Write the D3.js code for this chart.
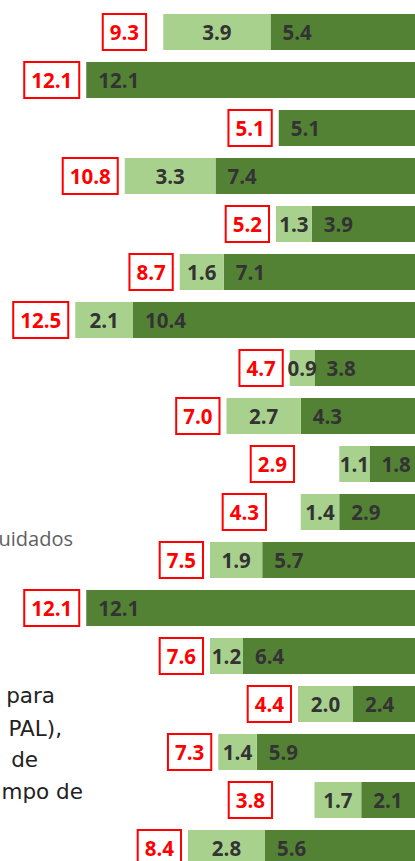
<!DOCTYPE html>
<html>
<head>
<meta charset="utf-8">
<script src="https://cdn.jsdelivr.net/npm/d3@7"></script>
<style>
  html, body { margin: 0; padding: 0; background: #ffffff; overflow: hidden; }
  svg { display: block; }
</style>
</head>
<body>
<svg id="chart" width="415" height="861"></svg>
<script>
// ---- data ----
const categories = ["r01","r02","r03","r04","r05","r06","r07","r08","r09","r10","r11","r12","r13","r14","r15","r16","r17","r18"];
const totals   = [9.3, 12.1, 5.1, 10.8, 5.2, 8.7, 12.5, 4.7, 7.0, 2.9, 4.3, 7.5, 12.1, 7.6, 4.4, 7.3, 3.8, 8.4];
const lightVals = [3.9, 0, 0, 3.3, 1.3, 1.6, 2.1, 0.9, 2.7, 1.1, 1.4, 1.9, 0, 1.2, 2.0, 1.4, 1.7, 2.8];
const darkVals  = [5.4, 12.1, 5.1, 7.4, 3.9, 7.1, 10.4, 3.8, 4.3, 1.8, 2.9, 5.7, 12.1, 6.4, 2.4, 5.9, 2.1, 5.6];
// value at which each boxed total label sits (hidden helper series)
const totalLabelAt = [9.67, 12.1, 5.1, 10.7, 5.2, 8.7, 12.5, 4.7, 7.0, 4.29, 5.31, 7.6, 12.1, 7.6, 4.4, 7.3, 5.09, 8.4];
const sideTextGray = ["uidados"];
const sideTextDark = ["para", "PAL),", "de", "mpo de"];

// ---- layout ----
const svg = d3.select("#chart");
const x = d3.scaleLinear().domain([0, 15.236]).range([419, 0]);
const y = d3.scaleBand().domain(categories).range([8, 872]).paddingInner(0.25).paddingOuter(0.125);

const LIGHT = "#a9d18e", DARK = "#548235", NUM = "#333333", RED = "#ff0000";
const numFont = "'Open Sans', sans-serif";
const numSize = 20.5;
const numDy = 7.5;

const rows = categories.map((c, i) => ({
  c, total: totals[i], light: lightVals[i], dark: darkVals[i], at: totalLabelAt[i]
}));

const g = svg.append("g");

// dark segments (from 0 to dark value)
g.selectAll("rect.dark").data(rows).join("rect")
  .attr("class", "dark")
  .attr("x", d => x(d.dark))
  .attr("y", d => y(d.c))
  .attr("width", d => x(0) - x(d.dark))
  .attr("height", y.bandwidth())
  .attr("fill", DARK);

// light segments (stacked after dark)
g.selectAll("rect.light").data(rows.filter(d => d.light > 0)).join("rect")
  .attr("class", "light")
  .attr("x", d => x(d.dark + d.light))
  .attr("y", d => y(d.c))
  .attr("width", d => x(d.dark) - x(d.dark + d.light))
  .attr("height", y.bandwidth())
  .attr("fill", LIGHT);

// light labels (centered)
g.selectAll("text.lightlab").data(rows.filter(d => d.light > 0)).join("text")
  .attr("class", "lightlab")
  .attr("x", d => (x(d.dark) + x(d.dark + d.light)) / 2)
  .attr("y", d => y(d.c) + y.bandwidth() / 2 + numDy)
  .attr("text-anchor", "middle")
  .attr("font-family", numFont).attr("font-weight", 700).attr("font-size", numSize)
  .attr("fill", NUM)
  .text(d => d3.format(".1f")(d.light));

// dark labels (inside end)
g.selectAll("text.darklab").data(rows).join("text")
  .attr("class", "darklab")
  .attr("x", d => x(d.dark) + 12)
  .attr("y", d => y(d.c) + y.bandwidth() / 2 + numDy)
  .attr("text-anchor", "start")
  .attr("font-family", numFont).attr("font-weight", 700).attr("font-size", numSize)
  .attr("fill", NUM)
  .text(d => d3.format(".1f")(d.dark));

// boxed totals
const tg = g.selectAll("g.total").data(rows).join("g").attr("class", "total");
const tt = tg.append("text")
  .attr("y", d => y(d.c) + y.bandwidth() / 2 + numDy)
  .attr("text-anchor", "middle")
  .attr("font-family", numFont).attr("font-weight", 700).attr("font-size", numSize)
  .attr("fill", RED)
  .text(d => d3.format(".1f")(d.total));
tt.each(function(d) {
  const w = this.getComputedTextLength() + 14;
  const right = x(d.at) - 7;
  d3.select(this).attr("x", right - w / 2);
  d3.select(this.parentNode).insert("rect", "text")
    .attr("x", right - w)
    .attr("y", y(d.c))
    .attr("width", w)
    .attr("height", y.bandwidth())
    .attr("fill", "#ffffff")
    .attr("stroke", RED)
    .attr("stroke-width", 2);
});

// clipped side texts from neighbouring panel
svg.append("text")
  .attr("x", 73).attr("y", 546)
  .attr("text-anchor", "end")
  .attr("font-family", "'Open Sans', sans-serif")
  .attr("font-size", 20)
  .attr("fill", "#606060")
  .text(sideTextGray[0]);

const darkEnds = [55, 62, 38, 83];
const darkBase = [703, 736, 767, 799];
svg.selectAll("text.side").data(sideTextDark).join("text")
  .attr("class", "side")
  .attr("x", (d, i) => darkEnds[i])
  .attr("y", (d, i) => darkBase[i])
  .attr("text-anchor", "end")
  .attr("font-family", "'DejaVu Sans', sans-serif")
  .attr("font-size", 21.5)
  .attr("fill", "#222222")
  .text(d => d);
</script>
</body>
</html>
